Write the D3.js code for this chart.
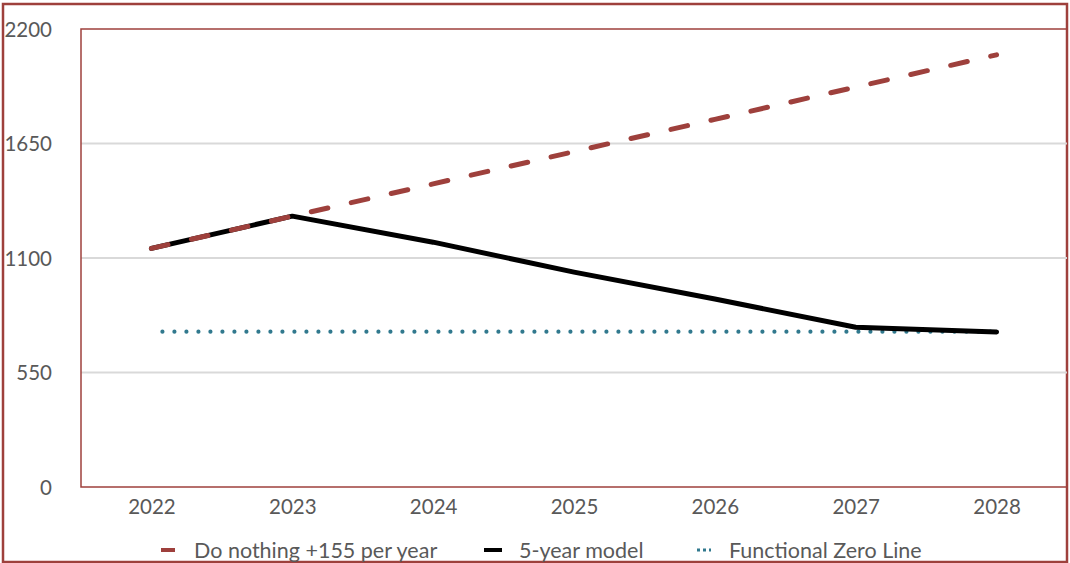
<!DOCTYPE html>
<html><head><meta charset="utf-8">
<script src="https://cdn.jsdelivr.net/npm/d3@7"></script>
<style>
html,body{margin:0;padding:0;background:#fff;}
svg text{font-family:Lato,"Open Sans",sans-serif;fill:#595959;}
</style></head>
<body><svg id="c" width="1070" height="563"></svg>
<script>
const years = ["2022","2023","2024","2025","2026","2027","2028"];
const doNothing = [1146, 1301, 1456, 1611, 1766, 1921, 2076];
const fiveYear = [1146, 1301, 1176, 1032, 903, 767, 745];
const functionalZero = [746, 746, 746, 746, 746, 746, 746];
const yTicks = [0, 550, 1100, 1650, 2200];
const seriesNames = ["Do nothing +155 per year", "5-year model", "Functional Zero Line"];

const red = "#9e403c", teal = "#31798e";
const svg = d3.select("#c");
const L = 81, R = 1067, T = 29, B = 487;
const x = d3.scalePoint().domain(years).range([L, R]).padding(0.5);
const y = d3.scaleLinear().domain([0, 2200]).range([B, T]);

// outer frame
svg.append("rect").attr("x",3).attr("y",4).attr("width",1064).attr("height",558)
  .attr("fill","none").attr("stroke",red).attr("stroke-width",2.5);

// gridlines
svg.append("g").selectAll("line").data(yTicks.filter(d=>d>0 && d<2200)).join("line")
  .attr("x1",L).attr("x2",R).attr("y1",d=>y(d)).attr("y2",d=>y(d))
  .attr("stroke","#d9d9d9").attr("stroke-width",2);

// plot area border
svg.append("path").attr("d",`M${R},${T}H${L}V${B}H${R}`)
  .attr("fill","none").attr("stroke",red).attr("stroke-width",1.5);

// y axis labels
const yAxis = d3.axisLeft(y).tickValues(yTicks).tickFormat(d3.format("d")).tickSize(0).tickPadding(0);
const gy = svg.append("g").attr("transform","translate(52,0)").call(yAxis);
gy.select(".domain").remove();
gy.selectAll("text").attr("font-size",20.5).attr("font-family","Lato").attr("fill","#595959").attr("dy","0.35em");

// x axis labels
const xAxis = d3.axisBottom(x).tickSize(0).tickPadding(0);
const gx = svg.append("g").attr("transform","translate(0,507)").call(xAxis);
gx.select(".domain").remove();
gx.selectAll("text").attr("font-size",20.5).attr("font-family","Lato").attr("fill","#595959").attr("dy","0.35em");

const line = d3.line().x((d,i)=>x(years[i])).y(d=>y(d));

svg.append("path").datum(functionalZero).attr("d",line).attr("fill","none")
  .attr("stroke",teal).attr("stroke-width",4.2).attr("stroke-linecap","round")
  .attr("stroke-dasharray","0,12").attr("stroke-dashoffset",1);
svg.append("path").datum(fiveYear).attr("d",line).attr("fill","none")
  .attr("stroke","#000").attr("stroke-width",5).attr("stroke-linecap","round").attr("stroke-linejoin","round");
svg.append("path").datum(doNothing).attr("d",line).attr("fill","none")
  .attr("stroke",red).attr("stroke-width",5).attr("stroke-linecap","round")
  .attr("stroke-dasharray","17,24");

// legend
const legY = 550;
const leg = [
  {name:seriesNames[0], mx:161, mw:14, tx:194, type:"dash"},
  {name:seriesNames[1], mx:484, mw:18, tx:519, type:"solid"},
  {name:seriesNames[2], mx:697, mw:14, tx:729, type:"dot"}
];
const lg = svg.append("g");
leg.forEach(l=>{
  if(l.type==="dash") lg.append("line").attr("x1",l.mx).attr("x2",l.mx+l.mw).attr("y1",legY).attr("y2",legY).attr("stroke",red).attr("stroke-width",4);
  if(l.type==="solid") lg.append("line").attr("x1",l.mx).attr("x2",l.mx+l.mw).attr("y1",legY).attr("y2",legY).attr("stroke","#000").attr("stroke-width",4);
  if(l.type==="dot") lg.append("line").attr("x1",l.mx).attr("x2",l.mx+l.mw).attr("y1",legY).attr("y2",legY).attr("stroke",teal).attr("stroke-width",3).attr("stroke-dasharray","3,3");
  lg.append("text").attr("x",l.tx).attr("y",legY).attr("dy","0.35em").attr("font-size",21.5).text(l.name);
});
</script></body></html>
